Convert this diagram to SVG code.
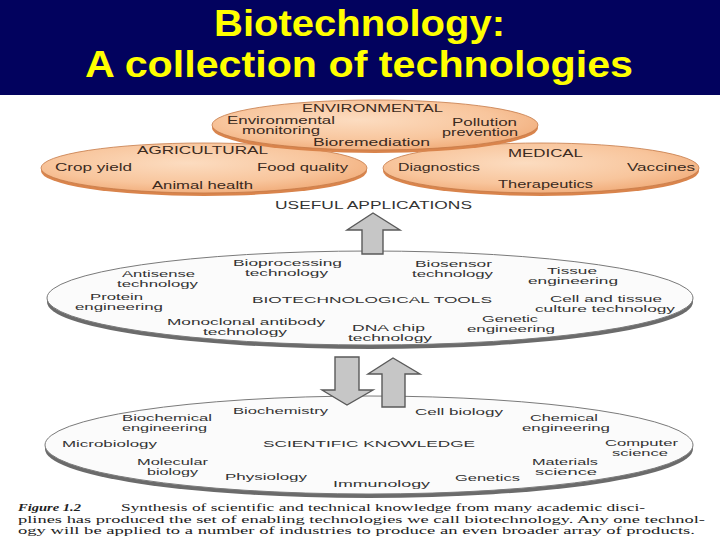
<svg xmlns="http://www.w3.org/2000/svg" width="720" height="540" viewBox="0 0 720 540">
<defs>
  <radialGradient id="peach" cx="0.45" cy="0.4" r="0.6">
    <stop offset="0" stop-color="#fcdcc0"/>
    <stop offset="0.7" stop-color="#f8c59c"/>
    <stop offset="1" stop-color="#f2b07f"/>
  </radialGradient>
  <style>
    .title{font-family:"Liberation Sans",Arial,sans-serif;font-weight:bold;font-size:37px;fill:#ffff00}
    .o{font-family:"Liberation Sans",Arial,sans-serif;font-size:10px;fill:#3b2a20}
    .g{font-family:"Liberation Sans",Arial,sans-serif;font-size:9px;fill:#333}
    .cap{font-family:"Liberation Serif","Times New Roman",serif;font-size:11px;fill:#222}
    .rimO{fill:#d9844c}
    .bodyO{fill:url(#peach);stroke:#c57a48;stroke-width:0.8}
    .rimG{fill:#6b6b6b}
    .bodyG{fill:#fbfbfb;stroke:#7a7a7a;stroke-width:1}
    .arrow{fill:#c6c6c6;stroke:#5a5a5a;stroke-width:1.4;stroke-linejoin:miter}
  </style>
</defs>
<rect x="0" y="0" width="720" height="540" fill="#ffffff"/>
<g id="title">
  <rect x="0" y="0" width="720" height="95" fill="#02025e"/>
  <text class="title" x="214" y="36" textLength="291" lengthAdjust="spacingAndGlyphs">Biotechnology:</text>
  <text class="title" x="85" y="77" textLength="548" lengthAdjust="spacingAndGlyphs">A collection of technologies</text>
</g>

<g id="agricultural">
  <ellipse class="rimO" cx="204" cy="171" rx="163" ry="25"/>
  <ellipse class="bodyO" cx="204" cy="168" rx="163" ry="25"/>
  <text class="o" x="137" y="154" textLength="131" lengthAdjust="spacingAndGlyphs">AGRICULTURAL</text>
  <text class="o" x="55" y="171" textLength="77" lengthAdjust="spacingAndGlyphs">Crop yield</text>
  <text class="o" x="257" y="171" textLength="91" lengthAdjust="spacingAndGlyphs">Food quality</text>
  <text class="o" x="152" y="189" textLength="101" lengthAdjust="spacingAndGlyphs">Animal health</text>
</g>
<g id="medical">
  <ellipse class="rimO" cx="541" cy="171" rx="158" ry="25"/>
  <ellipse class="bodyO" cx="541" cy="168" rx="158" ry="25"/>
  <text class="o" x="508" y="157" textLength="75" lengthAdjust="spacingAndGlyphs">MEDICAL</text>
  <text class="o" x="398" y="171" textLength="82" lengthAdjust="spacingAndGlyphs">Diagnostics</text>
  <text class="o" x="627" y="171" textLength="68" lengthAdjust="spacingAndGlyphs">Vaccines</text>
  <text class="o" x="498" y="188" textLength="95" lengthAdjust="spacingAndGlyphs">Therapeutics</text>
</g>
<g id="environmental">
  <ellipse class="rimO" cx="375" cy="128" rx="163" ry="25"/>
  <ellipse class="bodyO" cx="375" cy="125" rx="163" ry="25"/>
  <text class="o" x="302" y="112" textLength="141" lengthAdjust="spacingAndGlyphs">ENVIRONMENTAL</text>
  <text class="o" x="227" y="124" textLength="108" lengthAdjust="spacingAndGlyphs">Environmental</text>
  <text class="o" x="242" y="134" textLength="78" lengthAdjust="spacingAndGlyphs">monitoring</text>
  <text class="o" x="313" y="146" textLength="117" lengthAdjust="spacingAndGlyphs">Bioremediation</text>
  <text class="o" x="452" y="126" textLength="65" lengthAdjust="spacingAndGlyphs">Pollution</text>
  <text class="o" x="442" y="136" textLength="76" lengthAdjust="spacingAndGlyphs">prevention</text>
</g>
<g id="useful-applications">
  <text class="o" x="275" y="209" textLength="197" lengthAdjust="spacingAndGlyphs" style="fill:#333">USEFUL APPLICATIONS</text>
</g>

<g id="biotechnological-tools">
  <ellipse class="rimG" cx="370" cy="302" rx="323" ry="47"/>
  <ellipse class="bodyG" cx="370" cy="298" rx="323" ry="47"/>
  <text class="g" x="122" y="277" textLength="73" lengthAdjust="spacingAndGlyphs">Antisense</text>
  <text class="g" x="117" y="287" textLength="81" lengthAdjust="spacingAndGlyphs">technology</text>
  <text class="g" x="233" y="266" textLength="109" lengthAdjust="spacingAndGlyphs">Bioprocessing</text>
  <text class="g" x="245" y="276" textLength="83" lengthAdjust="spacingAndGlyphs">technology</text>
  <text class="g" x="415" y="267" textLength="77" lengthAdjust="spacingAndGlyphs">Biosensor</text>
  <text class="g" x="412" y="277" textLength="81" lengthAdjust="spacingAndGlyphs">technology</text>
  <text class="g" x="547" y="274" textLength="50" lengthAdjust="spacingAndGlyphs">Tissue</text>
  <text class="g" x="528" y="284" textLength="90" lengthAdjust="spacingAndGlyphs">engineering</text>
  <text class="g" x="90" y="300" textLength="53" lengthAdjust="spacingAndGlyphs">Protein</text>
  <text class="g" x="75" y="310" textLength="88" lengthAdjust="spacingAndGlyphs">engineering</text>
  <text class="g" x="252" y="303" textLength="240" lengthAdjust="spacingAndGlyphs">BIOTECHNOLOGICAL TOOLS</text>
  <text class="g" x="550" y="302" textLength="112" lengthAdjust="spacingAndGlyphs">Cell and tissue</text>
  <text class="g" x="535" y="312" textLength="140" lengthAdjust="spacingAndGlyphs">culture technology</text>
  <text class="g" x="167" y="325" textLength="158" lengthAdjust="spacingAndGlyphs">Monoclonal antibody</text>
  <text class="g" x="203" y="335" textLength="84" lengthAdjust="spacingAndGlyphs">technology</text>
  <text class="g" x="352" y="331" textLength="73" lengthAdjust="spacingAndGlyphs">DNA chip</text>
  <text class="g" x="348" y="341" textLength="84" lengthAdjust="spacingAndGlyphs">technology</text>
  <text class="g" x="482" y="322" textLength="56" lengthAdjust="spacingAndGlyphs">Genetic</text>
  <text class="g" x="467" y="332" textLength="88" lengthAdjust="spacingAndGlyphs">engineering</text>
</g>

<g id="scientific-knowledge">
  <ellipse class="rimG" cx="369" cy="449" rx="324" ry="49"/>
  <ellipse class="bodyG" cx="369" cy="445" rx="324" ry="49"/>
  <text class="g" x="233" y="414" textLength="95" lengthAdjust="spacingAndGlyphs">Biochemistry</text>
  <text class="g" x="415" y="415" textLength="88" lengthAdjust="spacingAndGlyphs">Cell biology</text>
  <text class="g" x="122" y="421" textLength="90" lengthAdjust="spacingAndGlyphs">Biochemical</text>
  <text class="g" x="122" y="431" textLength="85" lengthAdjust="spacingAndGlyphs">engineering</text>
  <text class="g" x="530" y="421" textLength="68" lengthAdjust="spacingAndGlyphs">Chemical</text>
  <text class="g" x="522" y="431" textLength="88" lengthAdjust="spacingAndGlyphs">engineering</text>
  <text class="g" x="62" y="447" textLength="95" lengthAdjust="spacingAndGlyphs">Microbiology</text>
  <text class="g" x="263" y="447" textLength="212" lengthAdjust="spacingAndGlyphs">SCIENTIFIC KNOWLEDGE</text>
  <text class="g" x="605" y="446" textLength="73" lengthAdjust="spacingAndGlyphs">Computer</text>
  <text class="g" x="612" y="456" textLength="56" lengthAdjust="spacingAndGlyphs">science</text>
  <text class="g" x="137" y="465" textLength="71" lengthAdjust="spacingAndGlyphs">Molecular</text>
  <text class="g" x="147" y="475" textLength="51" lengthAdjust="spacingAndGlyphs">biology</text>
  <text class="g" x="225" y="480" textLength="82" lengthAdjust="spacingAndGlyphs">Physiology</text>
  <text class="g" x="333" y="487" textLength="97" lengthAdjust="spacingAndGlyphs">Immunology</text>
  <text class="g" x="455" y="481" textLength="65" lengthAdjust="spacingAndGlyphs">Genetics</text>
  <text class="g" x="532" y="465" textLength="66" lengthAdjust="spacingAndGlyphs">Materials</text>
  <text class="g" x="535" y="475" textLength="62" lengthAdjust="spacingAndGlyphs">science</text>
</g>

<g id="connectors">
  <path class="arrow" d="M362,254 L362,230 L347,230 L373,213 L400,230 L383,230 L383,254 Z"/>
  <path class="arrow" d="M335,357 L359,357 L359,390 L373,390 L347,405 L322,390 L335,390 Z"/>
  <path class="arrow" d="M382,407 L382,374 L368,374 L393,358 L420,374 L405,374 L405,407 Z"/>
</g>

<g id="caption">
  <text class="cap" x="18" y="511" textLength="63" lengthAdjust="spacingAndGlyphs" font-weight="bold" font-style="italic">Figure 1.2</text>
  <text class="cap" x="121" y="511" textLength="524" lengthAdjust="spacingAndGlyphs">Synthesis of scientific and technical knowledge from many academic disci-</text>
  <text class="cap" x="18" y="523" textLength="687" lengthAdjust="spacingAndGlyphs">plines has produced the set of enabling technologies we call biotechnology. Any one technol-</text>
  <text class="cap" x="18" y="534" textLength="677" lengthAdjust="spacingAndGlyphs">ogy will be applied to a number of industries to produce an even broader array of products.</text>
</g>
</svg>
